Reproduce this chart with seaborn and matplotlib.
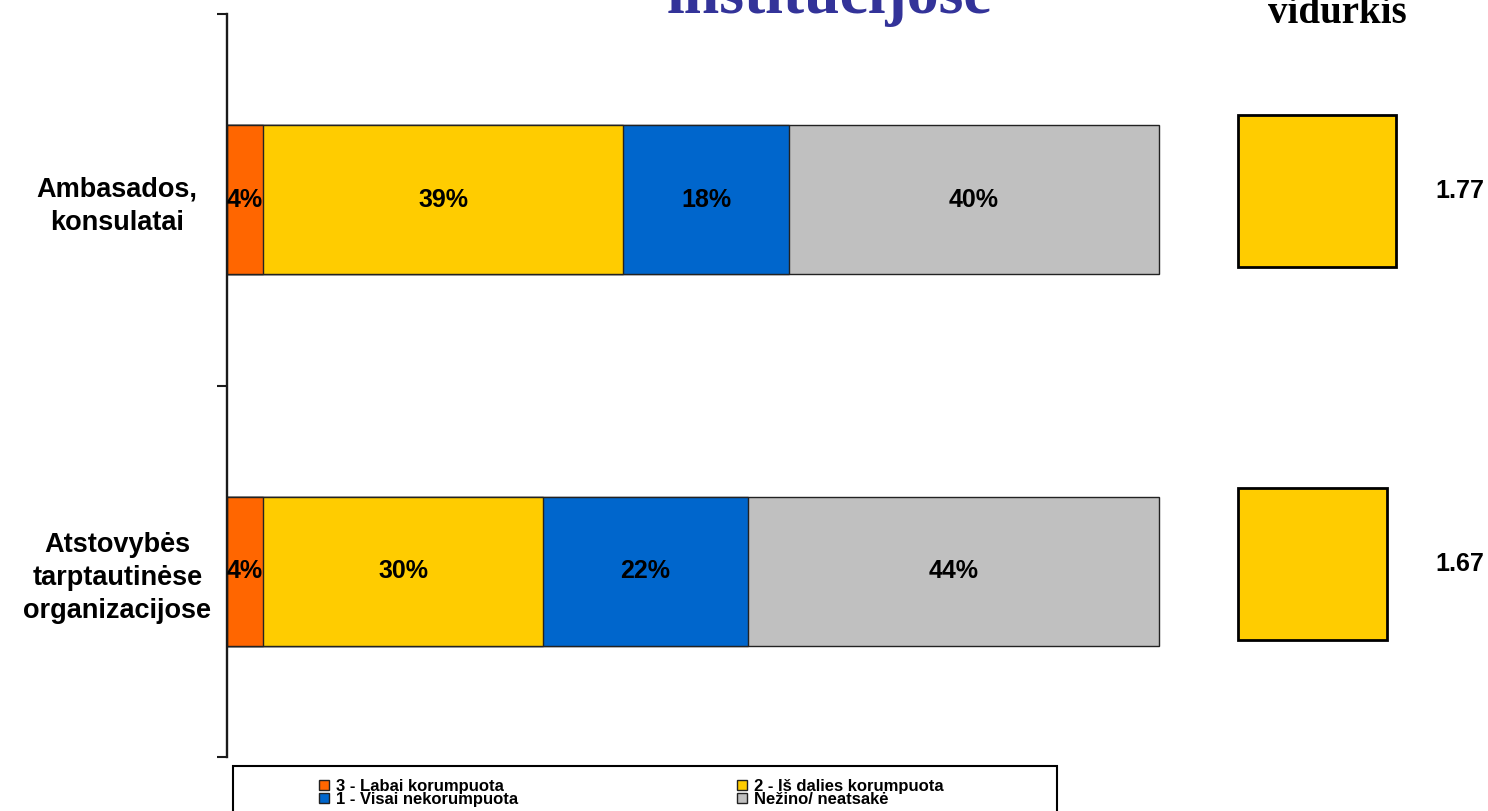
import numpy as np
import pandas as pd
import matplotlib
matplotlib.use("Agg")
import matplotlib.pyplot as plt
import matplotlib.patches as mpatches
import seaborn as sns

# ---------------- data ----------------
categories = ["Ambasados,\nkonsulatai", "Atstovybės\ntarptautinėse\norganizacijose"]
series_names = ["3 - Labai korumpuota", "2 - Iš dalies korumpuota",
                "1 - Visai nekorumpuota", "Nežino/ neatsakė"]
labai = [3.9, 3.9]
is_dalies = [38.6, 30.0]
visai = [17.8, 22.0]
nezino = [39.7, 44.1]
averages = [1.77, 1.67]
colors = ["#FF6600", "#FFCC00", "#0066CC", "#C0C0C0"]
title_text = "institucijose"
avg_title = "vidurkis"

# ---------------- style ----------------
sns.set_theme(style="white")
plt.rcParams["font.family"] = ["Liberation Sans", "DejaVu Sans"]
plt.rcParams["text.color"] = "black"
plt.rcParams["ytick.color"] = "black"
plt.rcParams["ytick.labelcolor"] = "black"

W, H = 1488, 811
fig = plt.figure(figsize=(W / 100, H / 100), dpi=100)


def fx(px):
    return px / W


def fy(py):
    return 1 - py / H


# ---------------- stacked bars ----------------
ax = fig.add_axes([fx(227), fy(757), fx(1159) - fx(227), fy(14) - fy(757)])
series = [labai, is_dalies, visai, nezino]
df = pd.DataFrame({n: v for n, v in zip(series_names, series)}, index=categories)
cum = df.cumsum(axis=1)

for i in range(len(series_names) - 1, -1, -1):
    name = series_names[i]
    sns.barplot(x=cum[name].values, y=categories, orient="h", color=colors[i],
                width=0.4, edgecolor="#222222", linewidth=1.0, saturation=1,
                ax=ax)
for p in ax.patches:
    p.set_clip_on(False)

for j, cat in enumerate(categories):
    for i, name in enumerate(series_names):
        v = df.loc[cat, name]
        c = cum.loc[cat, name] - v / 2
        ax.text(c, j, f"{round(v):.0f}%", ha="center", va="center",
                fontsize=18, fontweight="bold", color="black")

ax.set_xlim(0, 100)
ax.set_ylim(1.5, -0.5)
ax.set_xlabel("")
ax.set_ylabel("")
ax.set_xticks([])
for s in ["top", "right", "bottom"]:
    ax.spines[s].set_visible(False)
ax.spines["left"].set_linewidth(1.7)
ax.spines["left"].set_color("#1a1a1a")
ax.set_yticks([0, 1])
ax.set_yticklabels(categories, fontsize=19.5, fontweight="bold", ha="center",
                   linespacing=1.35, color="black")
ax.set_yticks([-0.5, 0.5, 1.5], minor=True)
ax.tick_params(axis="y", which="major", length=0, pad=79, left=False,
               labelcolor="black")
ax.tick_params(axis="y", which="minor", length=7.5, width=1.5, direction="out",
               left=True, color="#1a1a1a")

# ---------------- averages ----------------
ax2 = fig.add_axes([fx(1238), fy(750.5), fx(1488) - fx(1238), fy(4.5) - fy(750.5)])
sns.barplot(x=averages, y=categories, orient="h", color="#FFCC00", width=0.41,
            edgecolor="black", linewidth=2, saturation=1, ax=ax2)
for p in ax2.patches:
    p.set_clip_on(False)
ax2.set_xlim(0, 250 / 89.5)
ax2.set_ylim(1.5, -0.5)
for j, v in enumerate(averages):
    ax2.text(2.48, j, f"{v:.2f}", ha="center", va="center", fontsize=18,
             fontweight="bold", color="black")
ax2.axis("off")

# ---------------- titles ----------------
fig.text(fx(829), fy(13), title_text, ha="center", va="baseline", fontsize=46,
         fontweight="bold", color="#333399", family=["Liberation Serif", "DejaVu Serif"])
fig.text(fx(1407), fy(23), avg_title, ha="right", va="baseline", fontsize=28,
         fontweight="bold", color="black", family=["Liberation Serif", "DejaVu Serif"])

# ---------------- legend ----------------
handles = [mpatches.Patch(facecolor=c, edgecolor="#222222", linewidth=1.0) for c in colors]
order = [0, 2, 1, 3]
leg = fig.legend([handles[k] for k in order], [series_names[k] for k in order],
                 loc="upper left", bbox_to_anchor=(fx(319), fy(779)), ncol=2,
                 frameon=False, prop={"weight": "bold", "size": 12},
                 handlelength=0.6, handleheight=0.6, handletextpad=0.45,
                 columnspacing=13.1, labelspacing=-0.14, borderpad=0,
                 borderaxespad=0)
for t in leg.get_texts():
    t.set_color("black")
fig.add_artist(mpatches.Rectangle((fx(233), -0.02), fx(1057) - fx(233), fy(766) + 0.02,
                                  transform=fig.transFigure, fill=False,
                                  edgecolor="black", linewidth=1.5))

fig.savefig("out.png", dpi=100)
